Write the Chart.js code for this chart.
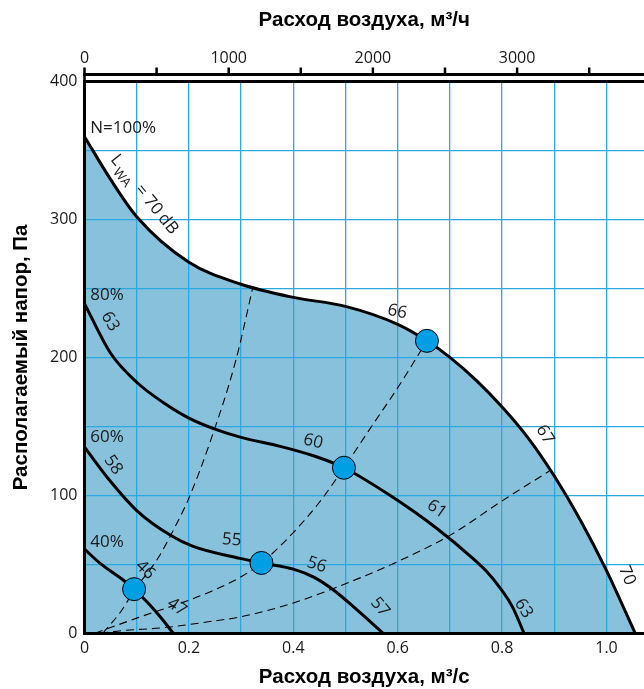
<!DOCTYPE html>
<html>
<head>
<meta charset="utf-8">
<script src="https://cdn.jsdelivr.net/npm/chart.js@4/dist/chart.umd.min.js"></script>
<style>
  html, body { margin: 0; padding: 0; background: #fff; }
  #wrap { width: 644px; height: 689px; position: relative; }
</style>
</head>
<body>
<div id="wrap"><canvas id="fan"></canvas></div>
<script>
// fan curves, flow in m3/s, available pressure in Pa
const flow100 = [0, 0.05, 0.1, 0.2, 0.3, 0.4, 0.5, 0.6, 0.656, 0.7, 0.75, 0.8, 0.85, 0.9, 0.95, 1.0, 1.055];
const pres100 = [360, 329, 302, 269, 253, 243.5, 237, 224, 212, 200, 183.5, 164, 141.5, 114, 82, 45.5, 0];

const flow80 = [0, 0.05, 0.1, 0.15, 0.2, 0.25, 0.3, 0.375, 0.44, 0.497, 0.585, 0.675, 0.745, 0.77, 0.796, 0.82, 0.842];
const pres80 = [239, 203, 182, 167.5, 156, 148, 142, 135.5, 128.5, 120, 100, 76, 54, 45, 33, 19, 0];

const flow60 = [0, 0.05, 0.1, 0.164, 0.208, 0.298, 0.339, 0.4, 0.44, 0.48, 0.528, 0.572];
const pres60 = [135, 110, 89, 71.2, 63, 54.3, 51, 46.5, 40.5, 30.5, 15, 0];

const flow40 = [0, 0.03, 0.074, 0.095, 0.119, 0.145, 0.17];
const pres40 = [61, 50.7, 38.6, 32, 23, 12, 0];

// system curves (dashed)
const flowSysA = [0.035, 0.07, 0.095, 0.14, 0.18, 0.2, 0.24, 0.29, 0.322];
const presSysA = [0, 16, 31, 54, 82, 98, 138, 198, 250];
const flowSysB = [0.02, 0.1, 0.2, 0.24, 0.3, 0.339, 0.4, 0.45, 0.497, 0.55, 0.6, 0.656];
const presSysB = [0, 11, 24, 30, 41, 51, 73, 95, 120, 150, 178, 212];
const flowSysC = [0.03, 0.074, 0.15, 0.24, 0.3, 0.4, 0.53, 0.6, 0.7, 0.8, 0.892];
const presSysC = [0, 2, 4, 8.5, 12, 22, 40.5, 52, 71, 96, 118];

// duty points
const dutyFlow = [0.095, 0.339, 0.497, 0.656];
const dutyPres = [32, 51, 120, 212];

// axis ranges and tick values
const flowMax = 1.0718;       // m3/s at the right edge
const flowHourMax = 3880;     // m3/h at the right edge
const presMax = 400;
const flowTicks = [0, 0.1, 0.2, 0.3, 0.4, 0.5, 0.6, 0.7, 0.8, 0.9, 1.0];
const flowHourTicks = [0, 500, 1000, 1500, 2000, 2500, 3000, 3500];
const presTicks = [0, 50, 100, 150, 200, 250, 300, 350, 400];

// speed and sound power labels
const speedLabels = [
  { text: 'N=100%', q: 0.011, p: 366 },
  { text: '80%', q: 0.011, p: 245 },
  { text: '60%', q: 0.011, p: 142.5 },
  { text: '40%', q: 0.011, p: 66.4 }
];
const soundLabels = [
  { text: '66', q: 0.599, p: 233, rot: 12 },
  { text: '67', q: 0.882, p: 144, rot: 58 },
  { text: '70', q: 1.039, p: 42, rot: 68 },
  { text: '63', q: 0.049, p: 226, rot: 60 },
  { text: '60', q: 0.438, p: 139, rot: 14 },
  { text: '61', q: 0.675, p: 90, rot: 35 },
  { text: '63', q: 0.841, p: 18, rot: 58 },
  { text: '58', q: 0.055, p: 122, rot: 55 },
  { text: '55', q: 0.282, p: 67.6, rot: 5 },
  { text: '56', q: 0.445, p: 49.5, rot: 18 },
  { text: '57', q: 0.566, p: 19, rot: 50 },
  { text: '46', q: 0.116, p: 46, rot: 45 },
  { text: '47', q: 0.177, p: 19, rot: 35 }
];

const gridColor = '#2aa9e1';
const fillColor = '#88c1dc';
const textColor = '#1a1a1a';
const tickFont = { family: '"Open Sans", sans-serif', size: 16 };
const titleFont = { family: '"Liberation Sans", Arial, sans-serif', size: 20.5, weight: 'bold', lineHeight: 1 };

const pts = (xs, ys) => xs.map((x, i) => ({ x, y: ys[i] }));
const fixTicks = values => s => { s.ticks = values.map(value => ({ value })); };

const fanCurve = (xs, ys, extra) => Object.assign({
  data: pts(xs, ys),
  borderColor: '#000',
  borderWidth: 3,
  pointRadius: 0,
  cubicInterpolationMode: 'monotone',
  fill: false,
  order: 2
}, extra);

const sysCurve = (xs, ys) => ({
  data: pts(xs, ys),
  borderColor: '#000',
  borderWidth: 1.1,
  borderDash: [8, 5],
  pointRadius: 0,
  cubicInterpolationMode: 'monotone',
  fill: false,
  order: 3
});

// outer m3/h axis line with its ticks, sitting just above the plot frame
const topAxis = {
  id: 'topAxis',
  afterDraw(chart) {
    const s = chart.scales.x2;
    const top = chart.chartArea.top;
    const y0 = top - 7;
    const ctx = chart.ctx;
    ctx.save();
    ctx.strokeStyle = '#000';
    ctx.lineWidth = 3;
    ctx.beginPath();
    ctx.moveTo(s.left - 1.5, y0);
    ctx.lineTo(s.right, y0);
    ctx.stroke();
    ctx.lineWidth = 2.5;
    s.ticks.forEach(t => {
      const px = s.getPixelForValue(t.value);
      ctx.beginPath();
      ctx.moveTo(px, t.value === 0 ? top : y0);
      ctx.lineTo(px, y0 - 7);
      ctx.stroke();
    });
    ctx.restore();
  }
};

const curveText = {
  id: 'curveText',
  afterDatasetsDraw(chart) {
    const { ctx, scales: { x, y } } = chart;
    ctx.save();
    ctx.fillStyle = textColor;
    ctx.font = '17px "Open Sans", sans-serif';
    ctx.textBaseline = 'middle';
    ctx.textAlign = 'left';
    speedLabels.forEach(l => ctx.fillText(l.text, x.getPixelForValue(l.q), y.getPixelForValue(l.p)));

    ctx.textAlign = 'center';
    soundLabels.forEach(l => {
      ctx.save();
      ctx.translate(x.getPixelForValue(l.q), y.getPixelForValue(l.p));
      ctx.rotate(l.rot * Math.PI / 180);
      ctx.fillText(l.text, 0, 0);
      ctx.restore();
    });

    // L_WA = 70 dB along the 100% curve
    ctx.save();
    ctx.translate(x.getPixelForValue(0.0613), y.getPixelForValue(343));
    ctx.rotate(51 * Math.PI / 180);
    ctx.fillText('L', 0, 0);
    ctx.font = '13px "Open Sans", sans-serif';
    ctx.fillText('WA', 17, 7);
    ctx.font = '17px "Open Sans", sans-serif';
    ctx.fillText('=', 39, 0);
    ctx.fillText('70', 58, 0);
    ctx.fillText('dB', 82, 0);
    ctx.restore();

    ctx.restore();
  }
};

new Chart(document.getElementById('fan'), {
  type: 'line',
  data: {
    datasets: [
      {
        data: pts(dutyFlow, dutyPres),
        showLine: false,
        pointRadius: 11.5,
        pointBackgroundColor: '#009fe3',
        pointBorderColor: '#000',
        pointBorderWidth: 1,
        order: 0
      },
      fanCurve(flow100, pres100, { fill: 'origin', backgroundColor: fillColor }),
      fanCurve(flow80, pres80),
      fanCurve(flow60, pres60),
      fanCurve(flow40, pres40),
      sysCurve(flowSysA, presSysA),
      sysCurve(flowSysB, presSysB),
      sysCurve(flowSysC, presSysC)
    ]
  },
  options: {
    responsive: true,
    maintainAspectRatio: false,
    animation: false,
    layout: { padding: 0, autoPadding: false },
    plugins: {
      legend: { display: false },
      tooltip: { enabled: false },
      filler: { drawTime: 'beforeDraw' }
    },
    scales: {
      x: {
        type: 'linear',
        position: 'bottom',
        min: 0,
        max: flowMax,
        afterBuildTicks: fixTicks(flowTicks),
        afterFit(s) { s.height = 55.7; s.paddingRight = 0; s.paddingLeft = 0; },
        ticks: {
          padding: 6,
          color: textColor,
          font: tickFont,
          maxRotation: 0,
          autoSkip: false,
          callback: v => {
            const k = Math.round(v * 10);
            if (k % 2) return '';
            return k === 0 ? '0' : (k / 10).toFixed(1);
          }
        },
        grid: { color: gridColor, lineWidth: 1.3, drawTicks: false },
        border: { color: '#000', width: 3 },
        title: {
          display: true,
          text: 'Расход воздуха, м³/с',
          color: '#000',
          font: titleFont,
          padding: { top: 0, bottom: 1 }
        }
      },
      x2: {
        type: 'linear',
        position: 'top',
        min: 0,
        max: flowHourMax,
        afterBuildTicks: fixTicks(flowHourTicks),
        afterFit(s) { s.height = 81.5; s.paddingRight = 0; s.paddingLeft = 0; },
        ticks: {
          padding: 5,
          color: textColor,
          font: tickFont,
          maxRotation: 0,
          autoSkip: false,
          callback: v => (v % 1000 === 0 ? String(v) : '')
        },
        grid: { display: false },
        border: { display: true, color: '#000', width: 3 },
        title: {
          display: true,
          text: 'Расход воздуха, м³/ч',
          color: '#000',
          font: titleFont,
          padding: { top: 10, bottom: 0 }
        }
      },
      y: {
        type: 'linear',
        position: 'left',
        min: 0,
        max: presMax,
        afterBuildTicks: fixTicks(presTicks),
        afterFit(s) { s.width = 84.5; },
        ticks: {
          padding: 7,
          color: textColor,
          font: tickFont,
          autoSkip: false,
          callback: v => (v % 100 === 0 ? String(v) : '')
        },
        grid: { color: gridColor, lineWidth: 1.3, drawTicks: false },
        border: { color: '#000', width: 3 },
        title: {
          display: true,
          text: 'Располагаемый напор, Па',
          color: '#000',
          font: titleFont,
          padding: { top: 11, bottom: 0 }
        }
      }
    }
  },
  plugins: [topAxis, curveText]
});
</script>
</body>
</html>
